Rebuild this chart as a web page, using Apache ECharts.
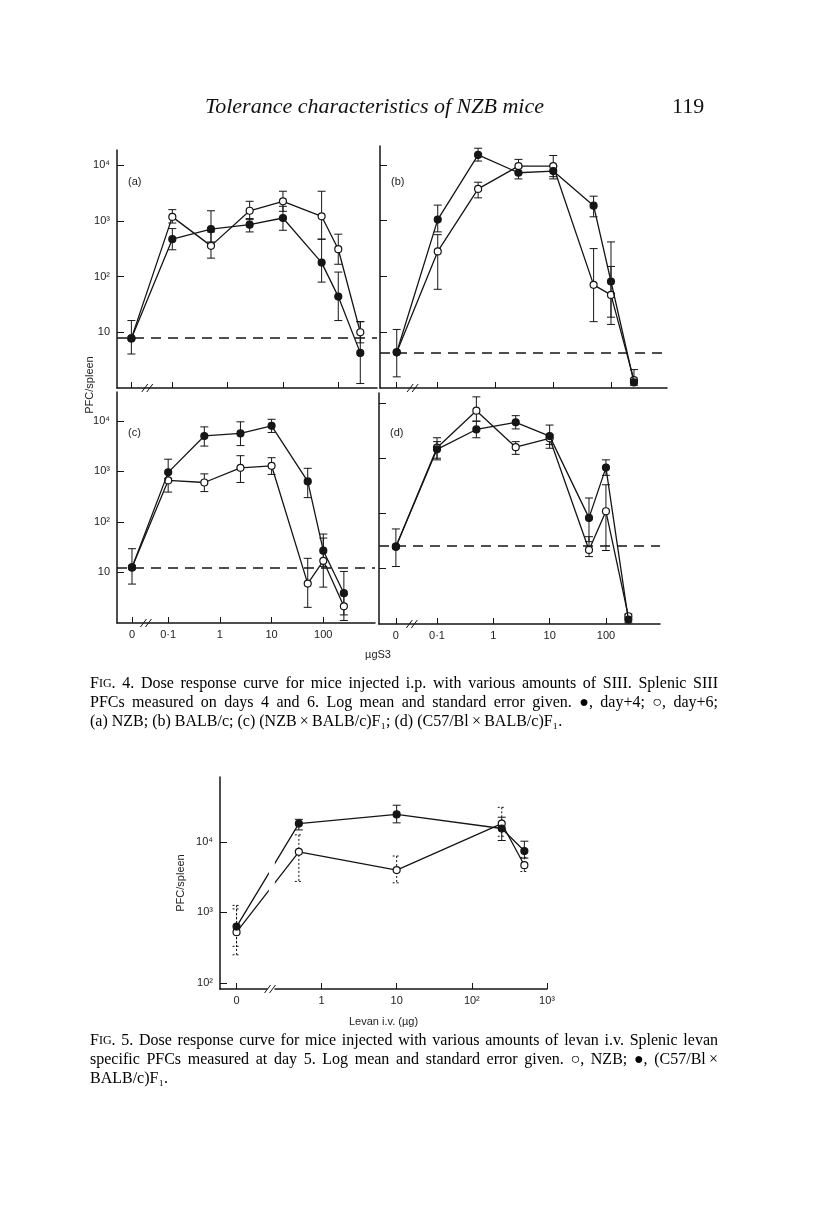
<!DOCTYPE html>
<html>
<head>
<meta charset="utf-8">
<script src="https://cdn.jsdelivr.net/npm/echarts@6/dist/echarts.min.js"></script>
<style>
html, body { margin: 0; padding: 0; background: #fff; }
#main { width: 816px; height: 1214px; }
</style>
</head>
<body>
<div id="main"></div>
<script>
// doses of SIII (µg), 0 is drawn left of the axis break
var doses4 = [0, 0.1, 0.5, 2.5, 10, 50, 100, 250];

// log10 PFC/spleen (mean, upper and lower error)
// (a) NZB
var aDay4   = [0.89, 2.67, 2.85, 2.93, 3.05, 2.25, 1.64, 0.63];
var aDay4Hi = [1.21, 2.86, 3.18, 3.04, 3.26, 2.67, 2.08, 1.19];
var aDay4Lo = [0.61, 2.48, 2.62, 2.80, 2.83, 1.90, 1.21, 0.08];
var aDay6   = [0.89, 3.07, 2.55, 3.18, 3.35, 3.08, 2.49, 1.00];
var aDay6Hi = [null, 3.20, 2.80, 3.35, 3.53, 3.53, 2.76, 1.19];
var aDay6Lo = [null, 2.96, 2.33, 3.02, 3.17, 2.67, 2.22, 0.81];
var aBase = 0.90;
// (b) BALB/c
var bDay4   = [0.64, 3.02, 4.18, 3.86, 3.89, 3.27, 1.91, 0.10];
var bDay4Hi = [1.05, 3.28, 4.30, 3.95, 3.98, 3.44, 2.18, null];
var bDay4Lo = [0.20, 2.80, 4.07, 3.75, 3.75, 3.07, 1.27, null];
var bDay6   = [0.64, 2.45, 3.57, 3.98, 3.98, 1.85, 1.67, 0.14];
var bDay6Hi = [null, 2.75, 3.69, 4.10, 4.17, 2.50, 2.62, 0.33];
var bDay6Lo = [null, 1.77, 3.41, 3.86, 3.79, 1.19, 1.14, 0.05];
var bBase = 0.64;
// (c) (NZB x BALB/c)F1
var cDay4   = [1.10, 2.98, 3.70, 3.75, 3.90, 2.80, 1.43, 0.59];
var cDay4Hi = [1.47, 3.24, 3.88, 3.98, 4.03, 3.06, 1.76, 1.02];
var cDay4Lo = [0.77, 2.80, 3.50, 3.51, 3.77, 2.48, 1.12, 0.16];
var cDay6   = [1.10, 2.82, 2.78, 3.07, 3.11, 0.78, 1.23, 0.33];
var cDay6Hi = [null, 2.86, 2.95, 3.31, 3.27, 1.28, 1.68, 0.56];
var cDay6Lo = [null, 2.59, 2.60, 2.78, 2.94, 0.31, 0.71, 0.05];
var cBase = 1.105;
// (d) (C57/Bl x BALB/c)F1
var dDay4   = [1.40, 3.16, 3.52, 3.65, 3.40, 1.92, 2.83, 0.08];
var dDay4Hi = [1.72, 3.37, 3.67, 3.77, 3.60, 2.28, 2.97, 0.18];
var dDay4Lo = [1.04, 2.97, 3.37, 3.53, 3.25, 1.49, 2.69, 0.02];
var dDay6   = [1.40, 3.19, 3.86, 3.20, 3.36, 1.34, 2.04, 0.14];
var dDay6Hi = [null, 3.30, 4.11, 3.30, 3.42, 1.58, 2.52, null];
var dDay6Lo = [null, 3.00, 3.67, 3.07, 3.18, 1.22, 1.33, null];
var dBase = 1.42;

// Fig. 5, levan i.v. (µg)
var doses5 = [0, 0.5, 10, 250, 500];
var f1Levan   = [2.80, 4.26, 4.39, 4.19, 3.87];
var f1LevanHi = [3.10, 4.32, 4.52, 4.35, 4.01];
var f1LevanLo = [2.52, 4.17, 4.27, 4.02, 3.77];
var nzbLevan   = [2.72, 3.86, 3.60, 4.26, 3.67];
var nzbLevanHi = [3.05, 4.10, 3.80, 4.49, 3.78];
var nzbLevanLo = [2.40, 3.44, 3.42, 4.08, 3.58];

// tick labels
var xTicks4 = ['0', '0·1', '1', '10', '100'];
var yTicks4 = ['10', '10²', '10³', '10⁴'];
var xTicks5 = ['0', '1', '10', '10²', '10³'];
var yTicks5 = ['10²', '10³', '10⁴'];

var INK = '#151515';
var SANS = 'Liberation Sans, Arial, sans-serif';
var SERIF = 'Liberation Serif, Times New Roman, serif';

// panel frames: x in log10 dose, y in log10 PFC
var panels = [
  { label: '(a)', left: 117, top: 150, width: 260, height: 238, xmin: -2.0, xmax: 2.70, ymin: 0, ymax: 4.27, zero: -1.74, yLab: true, xLab: false },
  { label: '(b)', left: 380, top: 146, width: 287, height: 242, xmin: -2.0, xmax: 2.97, ymin: 0, ymax: 4.34, zero: -1.71, yLab: false, xLab: false },
  { label: '(c)', left: 117, top: 392, width: 258, height: 231, xmin: -1.99, xmax: 3.0, ymin: 0, ymax: 4.57, zero: -1.70, yLab: true, xLab: true },
  { label: '(d)', left: 379, top: 393, width: 281, height: 231, xmin: -2.03, xmax: 2.96, ymin: 0, ymax: 4.18, zero: -1.73, yLab: false, xLab: true },
  { label: '', left: 220, top: 777, width: 327, height: 212, xmin: -1.35, xmax: 3.0, ymin: 1.915, ymax: 4.92, zero: -1.13, yLab: true, xLab: true }
];

var panelData = [
  [aDay4, aDay4Hi, aDay4Lo, aDay6, aDay6Hi, aDay6Lo, aBase],
  [bDay4, bDay4Hi, bDay4Lo, bDay6, bDay6Hi, bDay6Lo, bBase],
  [cDay4, cDay4Hi, cDay4Lo, cDay6, cDay6Hi, cDay6Lo, cBase],
  [dDay4, dDay4Hi, dDay4Lo, dDay6, dDay6Hi, dDay6Lo, dBase]
];

function xPos(dose, zero) {
  return dose === 0 ? zero : Math.log10(dose);
}

function errRender(params, api) {
  var x = api.value(0);
  var top = api.coord([x, api.value(2)]);
  var bot = api.coord([x, api.value(1)]);
  var w = 4;
  var style = { stroke: INK, lineWidth: 1, lineDash: api.value(3) ? [2, 2] : null };
  return {
    type: 'group',
    children: [
      { type: 'line', shape: { x1: top[0], y1: top[1], x2: bot[0], y2: bot[1] }, style: style },
      { type: 'line', shape: { x1: top[0] - w, y1: top[1], x2: top[0] + w, y2: top[1] }, style: style },
      { type: 'line', shape: { x1: bot[0] - w, y1: bot[1], x2: bot[0] + w, y2: bot[1] }, style: style }
    ]
  };
}

function errSeries(idx, doses, zero, hi, lo, dotted) {
  var data = [];
  doses.forEach(function (d, i) {
    if (hi[i] == null) return;
    data.push([xPos(d, zero), lo[i], hi[i], dotted(d) ? 1 : 0]);
  });
  return {
    type: 'custom', xAxisIndex: idx, yAxisIndex: idx,
    renderItem: errRender, data: data, silent: true, z: 2,
    encode: { x: 0, y: [1, 2] }
  };
}

function lineSeries(idx, doses, zero, vals, filled, base) {
  var s = {
    type: 'line', xAxisIndex: idx, yAxisIndex: idx,
    data: doses.map(function (d, i) { return [xPos(d, zero), vals[i]]; }),
    symbol: 'circle', symbolSize: 7, showSymbol: true,
    lineStyle: { color: INK, width: 1.3 },
    itemStyle: { color: filled ? INK : '#fff', borderColor: INK, borderWidth: 1.2 },
    z: filled ? 4 : 3, silent: true
  };
  if (base != null) {
    s.markLine = {
      silent: true, symbol: 'none', label: { show: false },
      lineStyle: { color: INK, type: [10, 7], width: 1.6 },
      data: [{ yAxis: base }]
    };
  }
  return s;
}

var grids = [], xAxes = [], yAxes = [], series = [];

panels.forEach(function (p, i) {
  var isFig5 = i === 4;
  grids.push({ left: p.left, top: p.top, width: p.width, height: p.height });
  var xVals = isFig5 ? [p.zero, 0, 1, 2, 3] : [p.zero, -1, 0, 1, 2];
  var xLabels = isFig5 ? xTicks5 : xTicks4;
  var yVals = isFig5 ? [2, 3, 4] : [1, 2, 3, 4];
  var yLabels = isFig5 ? yTicks5 : yTicks4;
  xAxes.push({
    gridIndex: i, type: 'value', min: p.xmin, max: p.xmax,
    axisLine: { onZero: false, lineStyle: { color: INK, width: 1.5 } },
    axisTick: { inside: true, length: 6, customValues: xVals, lineStyle: { color: INK, width: 1 } },
    axisLabel: {
      show: p.xLab, customValues: xVals, margin: 6,
      color: '#222', fontFamily: SANS, fontSize: 11,
      formatter: function (v) {
        var k = xVals.indexOf(v);
        return k >= 0 ? xLabels[k] : '';
      }
    },
    splitLine: { show: false },
    name: isFig5 ? 'Levan i.v. (µg)' : '',
    nameLocation: 'middle', nameGap: 27,
    nameTextStyle: { color: '#222', fontFamily: SANS, fontSize: 11 }
  });
  yAxes.push({
    gridIndex: i, type: 'value', min: p.ymin, max: p.ymax,
    axisLine: { show: true, onZero: false, lineStyle: { color: INK, width: 1.5 } },
    axisTick: { show: true, inside: true, length: 7, customValues: yVals, lineStyle: { color: INK, width: 1 } },
    axisLabel: {
      show: p.yLab, customValues: yVals, margin: 7,
      color: '#222', fontFamily: SANS, fontSize: 11,
      formatter: function (v) {
        var k = yVals.indexOf(v);
        return k >= 0 ? yLabels[k] : '';
      }
    },
    splitLine: { show: false },
    name: isFig5 ? 'PFC/spleen' : '',
    nameLocation: 'middle', nameGap: 34, nameRotate: 90,
    nameTextStyle: { color: '#222', fontFamily: SANS, fontSize: 11 }
  });

  if (!isFig5) {
    var d = panelData[i];
    var never = function () { return false; };
    series.push(errSeries(i, doses4, p.zero, d[1], d[2], never));
    series.push(errSeries(i, doses4, p.zero, d[4], d[5], never));
    series.push(lineSeries(i, doses4, p.zero, d[3], false, d[6]));
    series.push(lineSeries(i, doses4, p.zero, d[0], true, null));
  } else {
    series.push(errSeries(i, doses5, p.zero, f1LevanHi, f1LevanLo, function (dose) { return dose === 0; }));
    series.push(errSeries(i, doses5, p.zero, nzbLevanHi, nzbLevanLo, function () { return true; }));
    series.push(lineSeries(i, doses5, p.zero, nzbLevan, false, null));
    series.push(lineSeries(i, doses5, p.zero, f1Levan, true, null));
  }
});

var chart = echarts.init(document.getElementById('main'), null, { renderer: 'canvas' });
chart.setOption({
  animation: false,
  backgroundColor: '#fff',
  grid: grids,
  xAxis: xAxes,
  yAxis: yAxes,
  series: series
});

// page texts, panel letters and axis breaks
var g = [
  { type: 'text', left: 205, top: 96, style: { text: 'Tolerance characteristics of NZB mice', fill: '#111', font: 'italic 22px ' + SERIF } },
  { type: 'text', left: 672, top: 96, style: { text: '119', fill: '#111', font: '22px ' + SERIF } },
  { type: 'text', x: 90, y: 385, rotation: Math.PI / 2, style: { text: 'PFC/spleen', fill: '#222', font: '11px ' + SANS, align: 'center', verticalAlign: 'middle' } },
  { type: 'text', x: 378, y: 655, style: { text: 'µgS3', fill: '#222', font: '11px ' + SANS, align: 'center', verticalAlign: 'middle' } }
];

// captions: first lines justified to the text block, last line ragged
var CAP_SIZE = 16, SC_SIZE = 12;
var ctx = document.createElement('canvas').getContext('2d');
function measureWord(w) {
  var m = w.match(/^(.*)\{sc\|(.*)\}(.*)$/);
  ctx.font = CAP_SIZE + 'px ' + SERIF;
  if (!m) return ctx.measureText(w).width;
  var a = ctx.measureText(m[1]).width + ctx.measureText(m[3]).width;
  ctx.font = SC_SIZE + 'px ' + SERIF;
  return a + ctx.measureText(m[2]).width;
}
function capText(t, x, y) {
  g.push({
    type: 'text', x: x, y: y,
    style: {
      text: t, fill: '#000', font: CAP_SIZE + 'px ' + SERIF, verticalAlign: 'middle',
      rich: { sc: { fontSize: SC_SIZE, fontFamily: SERIF, fill: '#000' } }
    }
  });
}
function caption(lines, x, y0, right) {
  lines.forEach(function (t, k) {
    var y = y0 + k * 19;
    if (k === lines.length - 1) { capText(t, x, y); return; }
    var words = t.split(' ');
    var widths = words.map(measureWord);
    var used = widths.reduce(function (s, w) { return s + w; }, 0);
    var gap = (right - x - used) / (words.length - 1);
    var cx = x;
    words.forEach(function (w, j) {
      capText(w, cx, y);
      cx += widths[j] + gap;
    });
  });
}
caption([
  'F{sc|IG}. 4. Dose response curve for mice injected i.p. with various amounts of SIII. Splenic SIII',
  'PFCs measured on days 4 and 6. Log mean and standard error given. ●, day+4; ○, day+6;',
  '(a) NZB; (b) BALB/c; (c) (NZB\u2009×\u2009BALB/c)F₁; (d) (C57/Bl\u2009×\u2009BALB/c)F₁.'
], 90, 684, 718);
caption([
  'F{sc|IG}. 5. Dose response curve for mice injected with various amounts of levan i.v. Splenic levan',
  'specific PFCs measured at day 5. Log mean and standard error given. ○, NZB; ●, (C57/Bl\u2009×',
  'BALB/c)F₁.'
], 90, 1041, 718);

panels.forEach(function (p, i) {
  if (p.label) {
    var lp = chart.convertToPixel({ gridIndex: i }, [p.xmin, p.ymax]);
    g.push({ type: 'text', x: lp[0] + 11, y: i < 2 ? 182 : 433, style: { text: p.label, fill: '#222', font: '11px ' + SANS, verticalAlign: 'middle' } });
  }
  var first = i === 4 ? 0 : -1;
  var bp = chart.convertToPixel({ gridIndex: i }, [p.zero + 0.4 * (first - p.zero), p.ymin]);
  if (i === 4) {
    g.push({ type: 'rect', shape: { x: bp[0] - 3, y: bp[1] - 2, width: 7, height: 4 }, style: { fill: '#fff' }, z: 100 });
    // gap in the two curves where they cross the break
    var gTop = chart.convertToPixel({ gridIndex: i }, [-0.66, 3.85]);
    var gBot = chart.convertToPixel({ gridIndex: i }, [-0.66, 3.2]);
    g.push({ type: 'rect', shape: { x: gTop[0] - 3, y: gTop[1], width: 6, height: gBot[1] - gTop[1] }, style: { fill: '#fff' }, z: 100 });
  }
  [-3, 2].forEach(function (dx) {
    g.push({ type: 'line', shape: { x1: bp[0] + dx - 3, y1: bp[1] + 4, x2: bp[0] + dx + 3, y2: bp[1] - 4 }, style: { stroke: INK, lineWidth: 1 }, z: 101 });
  });
});

chart.setOption({ graphic: g });
</script>
</body>
</html>
